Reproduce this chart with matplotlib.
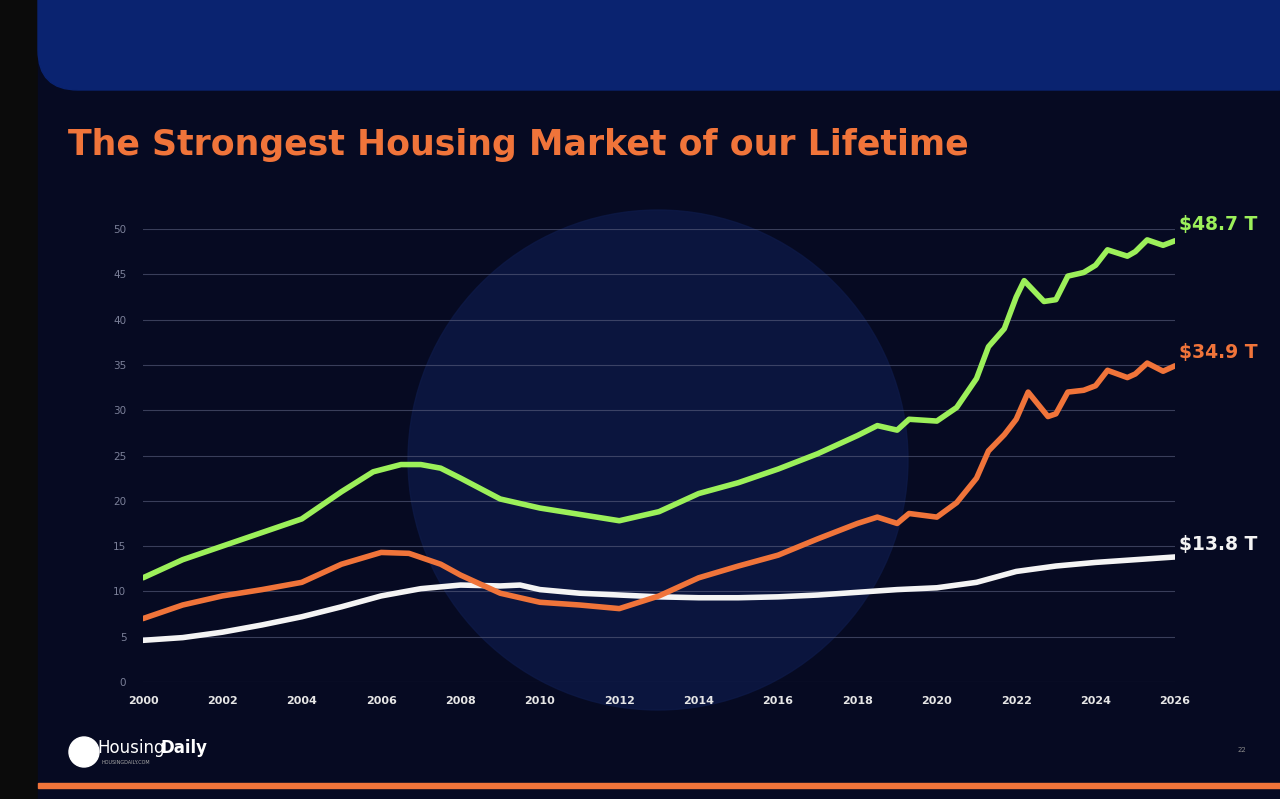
import numpy as np
import matplotlib.pyplot as plt
from matplotlib.patches import FancyBboxPatch, Rectangle, Circle

# valores (billones de $)
yr_green = [2000, 2001, 2002, 2003, 2004, 2005, 2005.8, 2006.5, 2007, 2007.5, 2008, 2009, 2010, 2011, 2012,
            2013, 2014, 2015, 2016, 2017, 2018, 2018.5, 2019, 2019.3, 2020, 2020.5, 2021, 2021.3, 2021.7,
            2022, 2022.2, 2022.7, 2023, 2023.3, 2023.7, 2024, 2024.3, 2024.8, 2025, 2025.3, 2025.7, 2026]
val_green = [11.5, 13.5, 15, 16.5, 18, 21, 23.2, 24, 24, 23.6, 22.5, 20.2, 19.2, 18.5, 17.8,
             18.8, 20.8, 22, 23.5, 25.2, 27.2, 28.3, 27.8, 29, 28.8, 30.3, 33.5, 37, 39,
             42.5, 44.3, 42, 42.2, 44.8, 45.2, 46, 47.7, 47, 47.5, 48.8, 48.2, 48.7]

yr_orange = [2000, 2001, 2002, 2003, 2004, 2005, 2006, 2006.7, 2007.5, 2008, 2009, 2010, 2011, 2012,
             2013, 2014, 2015, 2016, 2017, 2018, 2018.5, 2019, 2019.3, 2020, 2020.5, 2021, 2021.3, 2021.7,
             2022, 2022.3, 2022.8, 2023, 2023.3, 2023.7, 2024, 2024.3, 2024.8, 2025, 2025.3, 2025.7, 2026]
val_orange = [7, 8.5, 9.5, 10.2, 11, 13, 14.3, 14.2, 13, 11.8, 9.8, 8.8, 8.5, 8.1,
              9.5, 11.5, 12.8, 14, 15.8, 17.5, 18.2, 17.5, 18.6, 18.2, 19.8, 22.5, 25.5, 27.3,
              29, 32, 29.3, 29.6, 32, 32.2, 32.7, 34.4, 33.6, 34, 35.2, 34.3, 34.9]

yr_white = [2000, 2001, 2002, 2003, 2004, 2005, 2006, 2007, 2008, 2009, 2009.5, 2010, 2011, 2012, 2013,
            2014, 2015, 2016, 2017, 2018, 2019, 2020, 2021, 2022, 2023, 2024, 2025, 2026]
val_white = [4.6, 4.9, 5.5, 6.3, 7.2, 8.3, 9.5, 10.3, 10.7, 10.6, 10.7, 10.2, 9.8, 9.6, 9.4,
             9.3, 9.3, 9.4, 9.6, 9.9, 10.2, 10.4, 11, 12.2, 12.8, 13.2, 13.5, 13.8]

VERDE = "#9cf05a"
NARANJA = "#f0743a"
BLANCO = "#f4f4f4"
FONDO = "#060a22"

fig = plt.figure(figsize=(12.8, 7.99), dpi=100)
fig.patch.set_facecolor("#0b0b0b")

# fondo de la diapositiva
bg = fig.add_axes([0, 0, 1, 1])
bg.set_xlim(0, 1280)
bg.set_ylim(799, 0)
bg.axis("off")
bg.add_patch(Rectangle((38, 0), 1242, 799, color=FONDO))
bg.add_patch(FancyBboxPatch((38, -40), 1280, 130, boxstyle="round,pad=0,rounding_size=40",
                            color="#0a2370"))
bg.add_patch(Rectangle((38, 783), 1242, 5, color=NARANJA))
bg.add_patch(Circle((658, 460), 250, color="#0d1946", alpha=0.8))
bg.text(68, 145, "The Strongest Housing Market of our Lifetime", color=NARANJA,
        fontsize=25, fontweight="bold", va="center", family="DejaVu Sans")
bg.add_patch(Circle((84, 752), 15, color="white"))
bg.text(97, 748, "Housing", color="white", fontsize=12, va="center")
bg.text(160, 748, "Daily", color="white", fontsize=12, fontweight="bold", va="center")
bg.text(102, 762, "HOUSINGDAILY.COM", color="#aaaaaa", fontsize=3.5, va="center")
bg.text(1242, 752, "22", color="#888888", fontsize=5, ha="center")

ax = fig.add_axes([143 / 1280, 1 - 682 / 799, 1032 / 1280, 453 / 799])
ax.patch.set_alpha(0)
ax.set_xlim(2000, 2026)
ax.set_ylim(0, 50)
ax.set_yticks(range(0, 51, 5))
ax.set_xticks(range(2000, 2027, 2))
ax.grid(axis="y", color="#5c6180", linewidth=0.8, alpha=0.6)
for s in ax.spines.values():
    s.set_visible(False)
ax.tick_params(length=0)
ax.tick_params(axis="y", colors="#7a7f98", labelsize=7.5, pad=12)
ax.tick_params(axis="x", colors="#e6e6e6", labelsize=8, pad=10)
for lab in ax.get_xticklabels():
    lab.set_fontweight("bold")

ax.plot(yr_white, val_white, color=BLANCO, linewidth=4, solid_capstyle="round")
ax.plot(yr_orange, val_orange, color=NARANJA, linewidth=4, solid_capstyle="round")
ax.plot(yr_green, val_green, color=VERDE, linewidth=4, solid_capstyle="round")

for y, txt, c in [(val_green[-1] + 1.8, "$48.7 T", VERDE), (val_orange[-1] + 1.5, "$34.9 T", NARANJA),
                  (val_white[-1] + 1.4, "$13.8 T", BLANCO)]:
    ax.text(2026.1, y, txt, color=c, fontsize=13.5, fontweight="bold", va="center",
            family="DejaVu Sans", clip_on=False)

fig.savefig("out.png", dpi=100, facecolor=fig.get_facecolor())
